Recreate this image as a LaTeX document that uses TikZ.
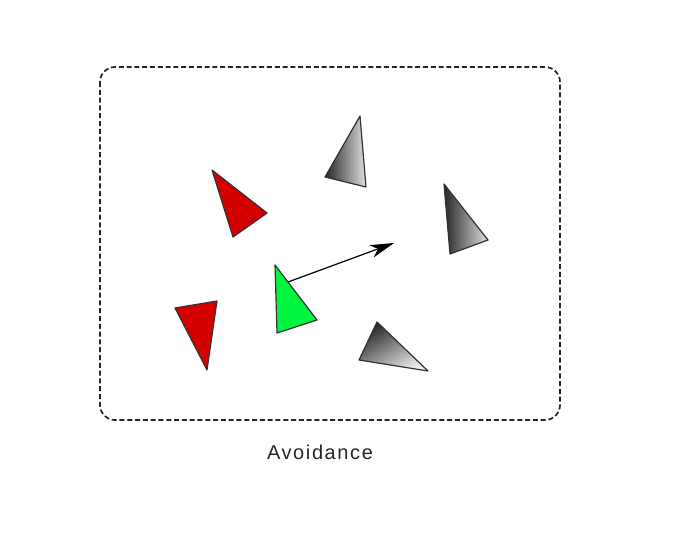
\documentclass[tikz,border=0pt]{standalone}
\usepackage{fontspec}
\setmainfont{Liberation Sans}
\usetikzlibrary{arrows.meta}
\definecolor{redfill}{HTML}{D40000}
\definecolor{greenfill}{HTML}{00F540}
\tikzset{
  frame/.style={draw=black!85, line width=1.7pt, dash pattern=on 5pt off 2.8pt, rounded corners=15pt},
  tri/.style={draw=black!80, line width=1.2pt, line join=round},
  redtri/.style={tri, fill=redfill},
  greentri/.style={tri, fill=greenfill},
  graytri/.style={tri, left color=black!85, right color=black!12},
  motion/.style={draw=black, line width=1.2pt, -{Stealth[length=24pt,width=13pt,inset=7pt]}},
  caption/.style={font=\fontsize{20}{22}\selectfont\addfontfeature{LetterSpace=8}, text=black!85}
}
\begin{document}
\begin{tikzpicture}[x=1pt,y=-1pt]
\useasboundingbox (0,0) rectangle (700,535);
\draw[frame] (100,67) rectangle (560,420);
% red triangles
\path[redtri] (212,170) -- (267,213) -- (233,237) -- cycle;
\path[redtri] (175,308) -- (217,301) -- (207,370) -- cycle;
% gray triangles
\path[graytri] (360,116) -- (366,187) -- (325,177) -- cycle;
\path[graytri] (444,184) -- (488,240) -- (450,254) -- cycle;
\path[tri, top color=black!85, bottom color=black!8, shading angle=30] (377,322) -- (428,371) -- (359,360) -- cycle;
% green triangle
\path[greentri] (275,265) -- (317,320) -- (277,333) -- cycle;
\coordinate (start) at (288,282);
\coordinate (goal) at (394,243);
\draw[motion] (start) -- (goal);
\node[caption] (label) at (320,452) {Avoidance};
\end{tikzpicture}
\end{document}
